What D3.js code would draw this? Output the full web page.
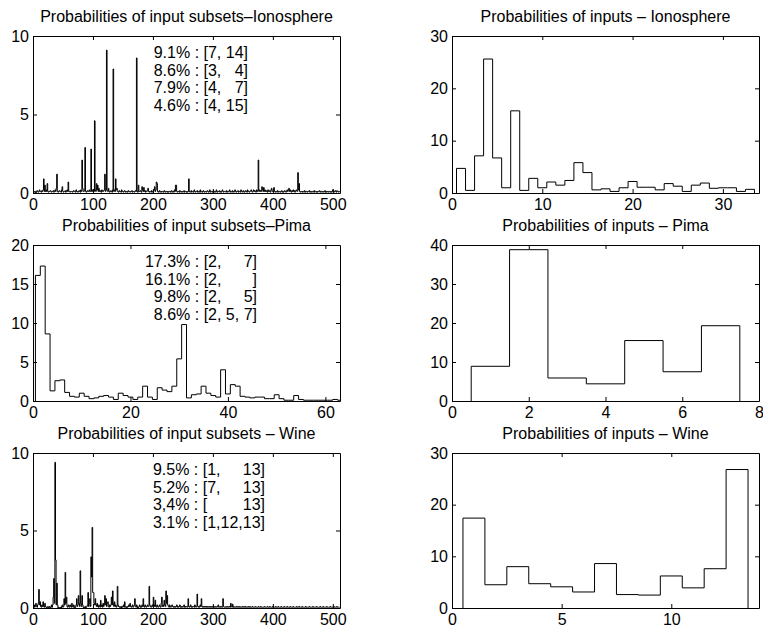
<!DOCTYPE html>
<html>
<head>
<meta charset="utf-8">
<script src="https://cdn.jsdelivr.net/npm/d3@7/dist/d3.min.js"></script>
<style>
  body { margin: 0; background: #fff; }
  text { font-family: "Liberation Sans", Arial, Helvetica, sans-serif; font-size: 16px; fill: #000; }
  .note { white-space: pre; }
</style>
</head>
<body>
<svg id="fig" width="763" height="628"></svg>
<script>
// probabilities (%) of each input subset, index 1..511
const ionoSubsets = [
  .1,.05,.1,.1,0,.1,.15,.1, .05,.1,.2,.1,.1,.05,.15,.1, .2,.9,.1,.5,.1,.2,.1,.6, .1,.05,.1,.1,.15,.1,.05,.1,
  .1,.15,.05,.1,.2,.1,.3,1.2, .1,.05,.1,.15,.1,.1,.05,.2, .4,.1,.05,.1,.1,.15,.05,.1, .2,.1,.7,.1,.1,.05,.1,.1,
  .1,.05,.1,.15,.1,.1,.05,.2, .1,.1,.05,.1,.15,.1,.05,.2, .1,2.1,.3,.1,.1,.2,2.9,.1, .05,.1,.15,.1,.1,.2,.1,.1,
  2.8,.1,.2,.1,.15,.1,4.6,.2, .1,.6,.2,.5,.1,.3,.1,.15, .1,.05,.2,.1,.1,.15,.2,1.2, .1,.2,9.1,.15,.1,.3,.1,.05,
  .1,.15,.1,.05,.2,7.9,.1,.2, .1,.9,.2,.3,.1,.1,.05,.15, .1,.1,.05,.2,.1,.1,.05,.1, .15,.1,.05,.1,.1,.05,.15,.1,
  .1,.05,.1,.1,.15,.05,.1,.1, .05,.1,.15,.1,8.6,.1,.05,.5, .1,.1,.15,.1,.05,.4,.2,.1, .35,.1,.15,.05,.1,.1,.2,.3,
  .1,.05,.1,.1,.05,.15,.1,.05, .1,.2,.4,.1,.2,.7,.6,.1, .05,.1,.15,.05,.1,.1,.05,.1, .1,.05,.15,.1,.05,.1,.1,.05,
  .1,.05,.1,.1,.05,.1,.15,.05, .1,.1,.05,.2,.1,.5,.5,.1, .05,.1,.1,.05,.15,.1,.05,.1, .1,.05,.1,.15,.05,.1,.1,.05,
  .1,.05,.1,.9,.1,.05,.1,.15, .05,.1,.1,.05,.2,.1,.05,.1, .1,.15,.05,.1,.05,.1,.2,.05, .1,.1,.05,.15,.1,.05,.1,.1,
  .05,.1,.15,.1,.05,.1,.2,.05, .1,.1,.05,.1,.15,.05,.1,.1, .05,.2,.1,.05,.1,.1,.15,.05, .1,.05,.1,.2,.1,.05,.1,.1,
  .1,.05,.15,.1,.05,.1,.1,.2, .05,.1,.1,.05,.15,.1,.05,.1, .2,.1,.05,.1,.1,.15,.05,.1, .1,.05,.2,.1,.1,.05,.15,.1,
  .05,.1,.15,.1,.05,.2,.1,.1, .05,.1,.15,.2,.1,.05,.1,.2, .1,.15,.1,.05,.2,.1,.15,2.1, .1,.2,.1,.15,.1,.4,.2,.1,
  .35,.1,.2,.1,.15,.1,.05,.2, .1,.15,.1,.05,.2,.3,.1,.1, .15,.35,.1,.05,.1,.1,.05,.15, .1,.05,.1,.1,.05,.1,.15,.05,
  .1,.05,.1,.15,.1,.05,.1,.2, .1,.15,.3,.1,.2,.1,.05,.15, .1,.2,.1,.15,.05,.1,.2,.15, .1,1.3,.2,.6,.1,.05,.1,.1,
  .05,.1,.1,.05,.15,.1,.05,.1, .1,.05,.1,.1,.15,.05,.1,.05, .1,.1,.05,.1,.15,.05,.1,.1, .05,.1,.05,.1,.1,.15,.05,.1,
  .1,.05,.1,.1,.05,.1,.15,.05, .1,.05,.1,.1,.05,.1,.1,.05, .1,.05,.1,.2,.1,.05,.1,.15, .1,.05,.15,.1,.1,.05,.1
];
const ionoInputs = [4.7,.5,7.1,25.6,6.7,1.0,15.7,.5,2.8,1.0,2.1,1.5,2.4,5.8,3.9,.6,.8,.3,1.0,2.2,1.1,1.1,.6,1.8,1.3,.3,1.5,1.9,.9,1.0,1.0,.3,.7];

const pimaSubsets = [16.1,17.3,8.6,1.3,2.6,2.7,1.1,.6,.5,1.0, .6,.3,.4,.6,.7,.5,.2,1.0,.7,.5,
  .2,.5,1.9,.5,.2,1.7,1.4,1.2,1.9,5.4, 9.8,.4,.8,.9,1.9,1.0,.7,.5,4.0,.9,
  2.1,1.9,.6,.5,.4,.5,.5,.3,.3,.8, .3,.1,.1,.7,.2,.1,.1,.1,.1,.1, .1,.2,.1];
const pimaInputs = [8.9,38.8,5.9,4.4,15.5,7.5,19.3];

const wineSubsets = [
  .1,.2,.05,.1,.3,.1,.05,.2, .3,1.2,.2,.4,.1,.05,.2,.1, .4,.1,.05,.3,.1,.05,0,.05, .1,0,.05,.1,0,.05,.2,.05,
  .2,.7,1.9,.3,9.4,3.1,.2,1.6, .2,0,.05,0,0,.05,0,.1, .2,.05,.1,.6,.2,2.3,.3,.7, .1,.05,.2,.1,.05,.2,.1,.05,
  .3,.1,.05,.2,.1,0,.05,.2, .6,.1,.2,.8,.3,.1,2.4,.3, .1,.8,.2,.05,0,.05,.1,0, .05,.1,.2,1.0,.1,.3,.6,.1,
  3.3,2.0,5.2,1.0,1.0,.3,.2,.6, .2,.1,.3,.1,.05,.2,.1,.05, .5,.1,.2,.05,.3,.1,.2,.8, .2,.6,.1,.3,.4,.1,.05,.2,
  .1,.2,.7,.2,1.1,.3,.1,.4, .1,.2,.05,.1,1.4,.2,.1,.05, .1,.05,0,.1,.05,.1,.2,.05, .4,.1,.05,0,.1,.05,.1,.2,
  .1,.3,.1,.05,.1,.2,.05,.1, .2,.6,.1,.05,.2,.1,0,.05, .1,.2,.05,.1,.05,.2,.1,.6, .1,.05,.2,.1,.05,.1,.2,.1,
  .1,1.4,.2,.1,.05,.1,.2,.1, .7,.2,.1,.5,.1,.05,.2,.1, .05,.1,.2,.1,.05,.3,.7,.1, .2,.1,.5,.2,.1,1.1,.3,.8,
  .2,.1,.05,.2,.1,.05,.1,.2, .1,.05,.1,.05,.1,.05,.1,.2, .05,.1,.05,.1,.2,.05,.1,.05, .1,.05,.1,.2,.05,.1,.05,.1,
  .1,.05,.6,.1,.05,.1,.2,.05, .1,.05,.1,.1,.05,.2,.1,.05, .1,.9,.1,.05,.1,.05,.2,.1, .6,.1,.05,.1,.05,.1,.05,.1,
  .05,.1,.05,.1,.05,.05,.1,.05, .1,.05,.05,.1,.05,.1,.05,.05, .1,.05,.05,.1,.2,.05,.05,.1, .05,.1,.05,.05,.6,.1,.05,.05,
  .05,.1,.05,.05,.1,.05,.05,.1, .05,.3,.1,.05,.25,.05,.1,.05, .05,.05,.1,.05,.05,.1,.05,.05, .1,.05,.05,.05,.1,.05,.05,.1,
  .05,.05,.1,.05,.05,.05,.1,.05, .05,.1,.05,.05,.05,.1,.05,.05, .05,.05,.1,.05,.05,.05,.05,.1, .05,.05,.05,.1,.05,.05,.05,.05,
  .05,.1,.05,.05,.05,.05,.1,.05, .05,.05,.1,.05,.05,.05,.05,.1, .05,.05,.05,.05,.1,.05,.05,.05, .1,.05,.05,.05,.05,.1,.05,.05,
  .05,.05,.1,.05,.05,.05,.05,.1, .05,.05,.05,.05,.1,.05,.05,.05, .05,.1,.05,.05,.05,.05,.05,.1, .05,.05,.05,.1,.05,.05,.05,.05,
  .1,.05,.05,.05,.05,.05,.1,.05, .05,.05,.05,.05,.1,.05,.05,.05, .05,.05,.1,.05,.05,.05,.05,.05, .1,.05,.05,.05,.05,.05,.1,.05,
  .05,.05,.05,.1,.05,.05,.05,.05, .05,.1,.05,.05,.05,.05,.05,.1, .05,.05,.05,.05,.05,.1,.05,.05, .05,.05,.1,.05,.05,.05,.05
];
const wineInputs = [17.4,4.5,8.0,4.7,4.1,3.1,8.6,2.6,2.5,6.2,3.9,7.6,26.8];

// top subsets, as printed in the figure
const ionoNotes = ["9.1% : [7, 14]", "8.6% : [3,   4]", "7.9% : [4,   7]", "4.6% : [4, 15]"];
const pimaNotes = ["17.3% : [2,     7]", "16.1% : [2,       ]", "9.8% : [2,     5]", "8.6% : [2, 5, 7]"];
const wineNotes = ["9.5% : [1,     13]", "5.2% : [7,     13]", "3,4% : [        13]", "3.1% : [1,12,13]"];

const svg = d3.select("#fig");
const rowTop = [36, 245, 453], rowBot = [193, 401, 608];
const colL = [33, 452], colR = [340, 759];

const panels = [
  {row: 0, col: 0, title: "Probabilities of input subsets\u2013Ionosphere", values: ionoSubsets, xMax: 512, yMax: 10, xt: [0,100,200,300,400,500], yt: [0,5,10], notes: ionoNotes, noteX: 248},
  {row: 0, col: 1, title: "Probabilities of inputs \u2013 Ionosphere", values: ionoInputs, xMax: 34, yMax: 30, xt: [0,10,20,30], yt: [0,10,20,30], close: true},
  {row: 1, col: 0, title: "Probabilities of input subsets\u2013Pima", values: pimaSubsets, xMax: 63, yMax: 20, xt: [0,20,40,60], yt: [0,5,10,15,20], notes: pimaNotes, noteX: 257},
  {row: 1, col: 1, title: "Probabilities of inputs \u2013 Pima", values: pimaInputs, xMax: 8, yMax: 40, xt: [0,2,4,6,8], yt: [0,10,20,30,40], close: true},
  {row: 2, col: 0, title: "Probabilities of input subsets \u2013 Wine", values: wineSubsets, xMax: 512, yMax: 10, xt: [0,100,200,300,400,500], yt: [0,5,10], notes: wineNotes, noteX: 265},
  {row: 2, col: 1, title: "Probabilities of inputs \u2013 Wine", values: wineInputs, xMax: 14, yMax: 30, xt: [0,5,10], yt: [0,10,20,30], close: true}
];

panels.forEach(function(p, k) {
  const x0 = colL[p.col], x1 = colR[p.col], y0 = rowTop[p.row], y1 = rowBot[p.row];
  const x = d3.scaleLinear().domain([0, p.xMax]).range([x0, x1]);
  const y = d3.scaleLinear().domain([0, p.yMax]).range([y1, y0]);
  const g = svg.append("g");

  g.append("clipPath").attr("id", "clip" + k)
    .append("rect").attr("x", x0).attr("y", y0).attr("width", x1 - x0).attr("height", y1 - y0);

  // step outline, each value spans [i-0.5, i+0.5]
  const pts = [[0.5, 0]];
  p.values.forEach(function(v, i) {
    pts.push([i + 0.5, v]);
    pts.push([i + 1.5, v]);
  });
  if (p.close) pts.push([p.values.length + 0.5, 0]);

  const line = d3.line().x(d => x(d[0])).y(d => y(d[1]));
  g.append("path")
    .attr("d", line(pts))
    .attr("clip-path", "url(#clip" + k + ")")
    .attr("fill", "none")
    .attr("stroke", "#000")
    .attr("stroke-width", 1);

  // box with inward ticks on all sides
  const tl = 4;
  g.append("g").attr("transform", "translate(0," + y1 + ")")
    .call(d3.axisBottom(x).tickValues(p.xt).tickSizeInner(-tl).tickSizeOuter(0).tickPadding(6));
  g.append("g").attr("transform", "translate(0," + y0 + ")")
    .call(d3.axisTop(x).tickValues(p.xt).tickSizeInner(-tl).tickSizeOuter(0).tickFormat(""));
  g.append("g").attr("transform", "translate(" + x0 + ",0)")
    .call(d3.axisLeft(y).tickValues(p.yt).tickSizeInner(-tl).tickSizeOuter(0).tickPadding(4));
  g.append("g").attr("transform", "translate(" + x1 + ",0)")
    .call(d3.axisRight(y).tickValues(p.yt).tickSizeInner(-tl).tickSizeOuter(0).tickFormat(""));
  g.selectAll(".domain, .tick line").attr("stroke", "#000");
  g.selectAll(".tick text").attr("font-size", 16).attr("font-family", null);

  g.append("text")
    .attr("x", (x0 + x1) / 2)
    .attr("y", y0 - 14)
    .attr("text-anchor", "middle")
    .text(p.title);

  if (p.notes) {
    g.selectAll("text.note").data(p.notes).enter().append("text")
      .attr("class", "note")
      .attr("xml:space", "preserve")
      .attr("x", p.noteX)
      .attr("y", (d, i) => y0 + 22 + i * 17.5)
      .attr("text-anchor", "end")
      .text(d => d);
  }
});
</script>
</body>
</html>
